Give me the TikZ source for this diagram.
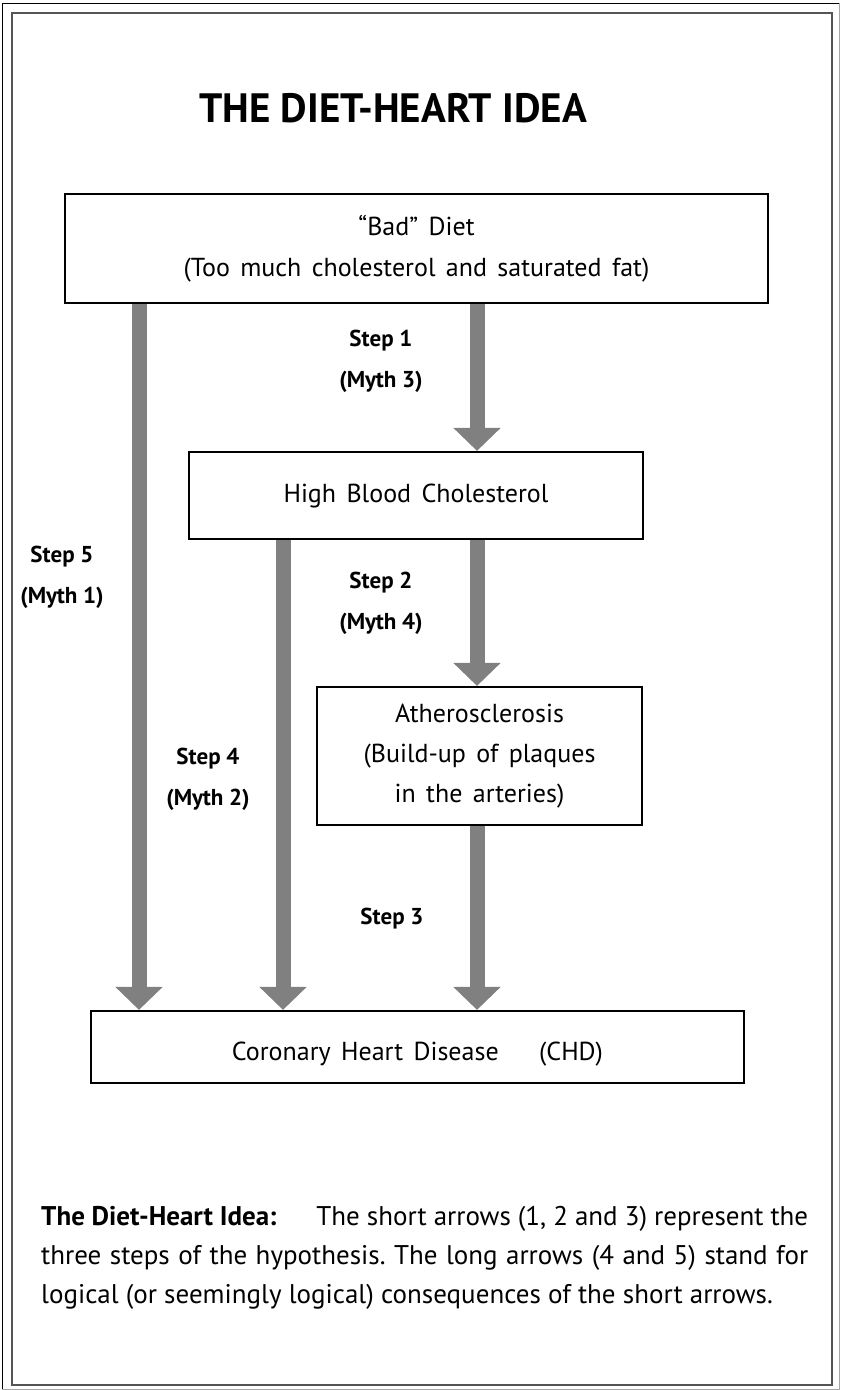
\documentclass[tikz,border=0pt]{standalone}
\usepackage{fontspec}
\setmainfont{PT Sans}
\newfontfamily\bxfont[WordSpace=1.5]{PT Sans}
\usetikzlibrary{arrows.meta}
\definecolor{arrowgray}{RGB}{128,128,128}
\definecolor{framegray}{RGB}{85,85,85}
\begin{document}
\frenchspacing
\begin{tikzpicture}[x=1pt,y=-1pt,
  box/.style={draw=black, line width=2.2pt, fill=white, inner sep=0pt, align=center,
              font=\bxfont\fontsize{26}{41}\selectfont},
  lab/.style={anchor=base, align=center, inner sep=0pt,
              font=\fontsize{23}{41}\selectfont\bfseries},
  bigarrow/.style={draw=arrowgray, line width=15pt,
              -{Triangle[width=46pt,length=23pt,fill=arrowgray]}}]
\useasboundingbox (0,0) rectangle (841,1390);
% frames
\draw[black, line width=1pt] (2,1389) -- (2,3) -- (839,3);
\draw[black!35, line width=1pt] (839,3) -- (839,1389) -- (2,1389);
\draw[framegray, line width=2.5pt] (12,13) rectangle (832,1385);
% title
\node[anchor=base, inner sep=0pt, font=\fontsize{41}{43}\selectfont\bfseries] (title) at (393,122) {THE DIET-HEART IDEA};
% boxes
\node[box, minimum width=703pt, minimum height=109pt] (diet) at (416.5,248.5)
  {“Bad” Diet\\(Too much cholesterol and saturated fat)};
\node[box, minimum width=454pt, minimum height=87pt] (hbc) at (416,495.5)
  {High Blood Cholesterol};
\node[box, minimum width=325pt, minimum height=138pt, font=\bxfont\fontsize{26}{40}\selectfont] (ath) at (479.5,756)
  {Atherosclerosis\\(Build-up of plaques\\in the arteries)};
\node[box, minimum width=653pt, minimum height=72pt, text height=26pt, text depth=0pt] (chd) at (417.5,1047)
  {Coronary Heart Disease\hspace{30pt} (CHD)};
% arrow columns
\coordinate (cA) at (477,0);
\coordinate (cB) at (283,0);
\coordinate (cC) at (139,0);
% arrows
\draw[bigarrow] (diet.south -| cA) -- (hbc.north -| cA);
\draw[bigarrow] (hbc.south -| cA) -- (ath.north -| cA);
\draw[bigarrow] (ath.south -| cA) -- (chd.north -| cA);
\draw[bigarrow] (hbc.south -| cB) -- (chd.north -| cB);
\draw[bigarrow] (diet.south -| cC) -- (chd.north -| cC);
% labels (base = last line)
\node[lab] (s1) at (381,387) {Step 1\\(Myth 3)};
\node[lab] (s2) at (381,629) {Step 2\\(Myth 4)};
\node[lab] (s3) at (392,924) {Step 3};
\node[lab] (s4) at (208,805) {Step 4\\(Myth 2)};
\node[lab] (s5) at (62,603) {Step 5\\(Myth 1)};
% caption (base = last line)
\node[anchor=base west, inner sep=0pt, align=left, font=\fontsize{27}{39}\selectfont] (cap) at (41,1303)
  {\makebox[767pt][s]{\textbf{The Diet-Heart Idea:}\hspace{40pt}The short arrows (1, 2 and 3) represent the}\\
   \makebox[767pt][s]{three steps of the hypothesis. The long arrows (4 and 5) stand for}\\
   logical (or seemingly logical) consequences of the short arrows.};
\end{tikzpicture}
\end{document}
